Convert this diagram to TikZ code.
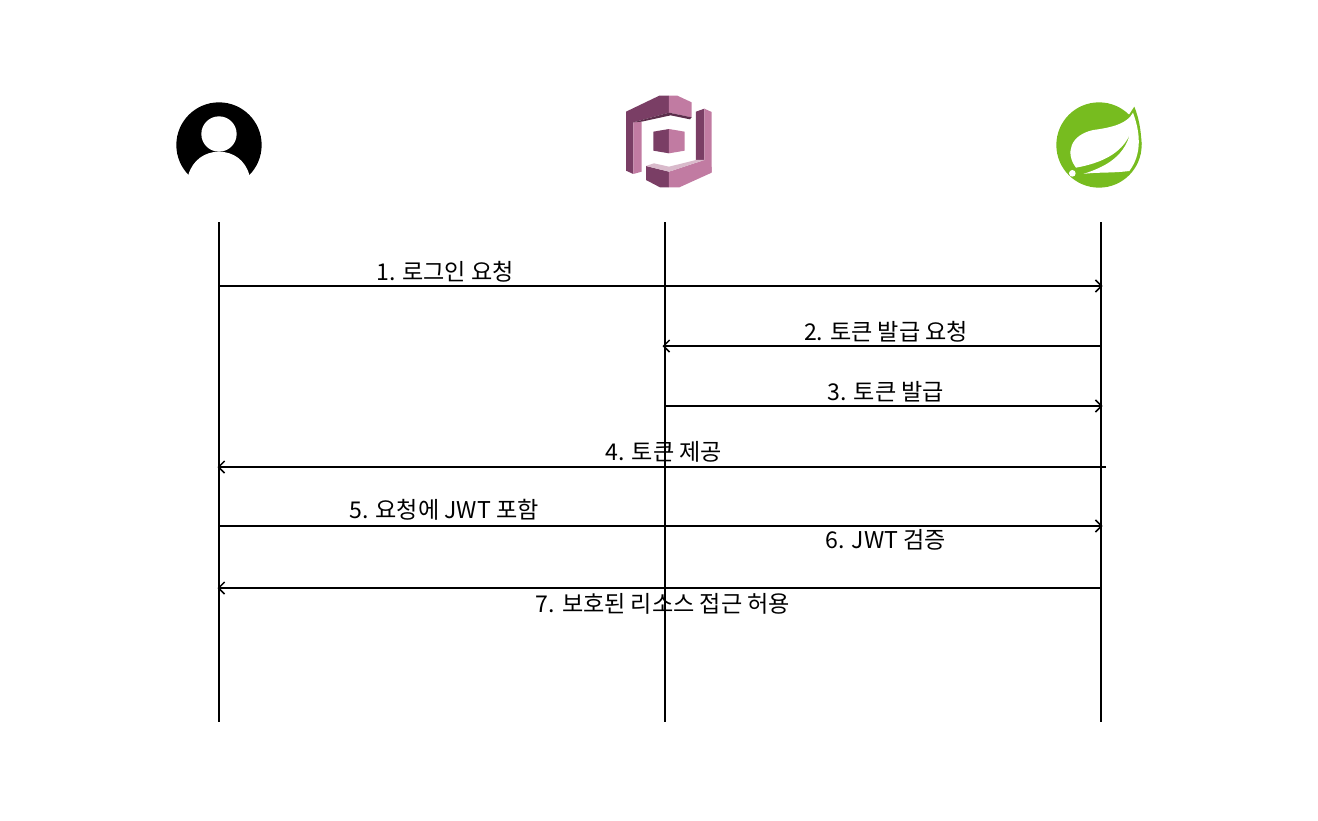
\documentclass[tikz,border=0pt]{standalone}
\usepackage{fontspec}
\setmainfont{Noto Sans CJK KR}
\usepackage{xcolor}
\definecolor{cog_dark}{RGB}{122,62,101}
\definecolor{cog_light}{RGB}{193,123,162}
\definecolor{cog_shade}{RGB}{91,46,75}
\definecolor{cog_pale}{RGB}{217,186,203}
\definecolor{spring_green}{RGB}{119,188,31}
\usetikzlibrary{arrows.meta}
\tikzset{
  lifeline/.style = {draw = black, line width = 1.6pt},
  message/.style = {draw = black, line width = 1.6pt, -{Straight Barb[length = 6pt, width = 12pt, line width = 1.5pt]}, shorten >= -1.5pt},
  msglabel/.style = {font = \fontsize{23.1}{26}\selectfont, inner sep = 0pt, anchor = center}
}
\begin{document}
\begin{tikzpicture}[x = 1pt, y = -1pt]
\useasboundingbox (0, 0) rectangle (1318, 820);

% user icon
\begin{scope}[shift = {(160, 90)}, x = 0.3333pt, y = -0.3333pt]
\fill [black] (177, 165) circle [radius = 128];
\fill [white] (85, 255) .. controls (98, 210) and (135, 185) .. (177, 185) .. controls (219, 185) and (256, 210) .. (268, 255) -- (310, 255) -- (310, 300) -- (45, 300) -- (45, 255) -- cycle;
\fill [white] (177, 132) circle [radius = 53];
\end{scope}

% cognito icon
\begin{scope}[shift = {(600, 80)}, x = 0.3333pt, y = -0.3333pt]
\fill [cog_dark] (78, 95) -- (178, 47) -- (207, 47) -- (207, 98) -- (100, 127) -- (100, 282) -- (78, 272) -- cycle;
\fill [cog_light] (100, 127) -- (125, 125) -- (125, 275) -- (100, 282) -- cycle;
\fill [cog_light] (207, 47) -- (232, 47) -- (275, 67) -- (275, 112) -- (207, 98) -- cycle;
\fill [cog_shade] (100, 127) -- (207, 98) -- (275, 112) -- (270, 118) -- (212, 106) -- (125, 125) -- cycle;
\fill [cog_dark] (160, 155) -- (207, 147) -- (207, 220) -- (160, 212) -- cycle;
\fill [cog_light] (207, 147) -- (254, 155) -- (254, 212) -- (207, 220) -- cycle;
\fill [cog_dark] (288, 95) -- (313, 86) -- (313, 240) -- (288, 245) -- cycle;
\fill [cog_light] (313, 86) -- (335, 96) -- (335, 278) -- (313, 240) -- cycle;
\fill [cog_dark] (138, 258) -- (207, 275) -- (207, 322) -- (180, 322) -- (138, 300) -- cycle;
\fill [cog_light] (207, 275) -- (313, 240) -- (335, 262) -- (335, 278) -- (238, 322) -- (207, 322) -- cycle;
\fill [cog_pale] (138, 258) -- (162, 250) -- (207, 260) -- (288, 240) -- (313, 240) -- (207, 275) -- cycle;
\end{scope}

% spring icon
\begin{scope}[shift = {(1040, 90)}, x = 0.3333pt, y = -0.3333pt]
\fill [spring_green] (177, 165) circle [radius = 128];
\fill [white] (225, 30) -- (320, 30) -- (320, 170) -- (305, 165) .. controls (303, 120) and (297, 85) .. (283, 50) -- cycle;
\fill [spring_green] (283, 50) .. controls (297, 85) and (303, 120) .. (305, 165) -- (280, 165) -- (262, 82) -- cycle;
\fill [white] (108, 233) .. controls (75, 190) and (90, 135) .. (160, 120) .. controls (220, 112) and (262, 100) .. (279, 68) .. controls (300, 125) and (308, 190) .. (268, 243) .. controls (215, 250) and (165, 246) .. (130, 252) .. controls (190, 232) and (250, 205) .. (270, 132) .. controls (245, 192) and (180, 220) .. (108, 233) -- cycle;
\fill [white] (97, 250) circle [radius = 10];
\end{scope}

% lifelines
\coordinate (user_top) at (219, 222);
\coordinate (user_bot) at (219, 722);
\coordinate (cog_top) at (665, 222);
\coordinate (cog_bot) at (665, 722);
\coordinate (app_top) at (1101, 222);
\coordinate (app_bot) at (1101, 722);
\draw [lifeline] (user_top) -- (user_bot);
\draw [lifeline] (cog_top) -- (cog_bot);
\draw [lifeline] (app_top) -- (app_bot);

% messages
\coordinate (m1a) at (219, 286);
\coordinate (m1b) at (1101, 286);
\coordinate (m2a) at (1101, 346);
\coordinate (m2b) at (664, 346);
\coordinate (m3a) at (665, 406);
\coordinate (m3b) at (1101, 406);
\coordinate (m4a) at (1106, 467);
\coordinate (m4b) at (219, 467);
\coordinate (m5a) at (219, 526);
\coordinate (m5b) at (1101, 526);
\coordinate (m7a) at (1101, 588);
\coordinate (m7b) at (219, 588);
\draw [message] (m1a) -- (m1b);
\draw [message] (m2a) -- (m2b);
\draw [message] (m3a) -- (m3b);
\draw [message] (m4a) -- (m4b);
\draw [message] (m5a) -- (m5b);
\draw [message] (m7a) -- (m7b);

% labels
\node [msglabel] (l1) at (445, 272) {1. 로그인 요청};
\node [msglabel] (l2) at (886, 332) {2. 토큰 발급 요청};
\node [msglabel] (l3) at (886, 392) {3. 토큰 발급};
\node [msglabel] (l4) at (664, 452) {4. 토큰 제공};
\node [msglabel] (l5) at (444, 510) {5. 요청에 JWT 포함};
\node [msglabel] (l6) at (886, 540) {6. JWT 검증};
\node [msglabel] (l7) at (663, 604) {7. 보호된 리소스 접근 허용};

\end{tikzpicture}
\end{document}
